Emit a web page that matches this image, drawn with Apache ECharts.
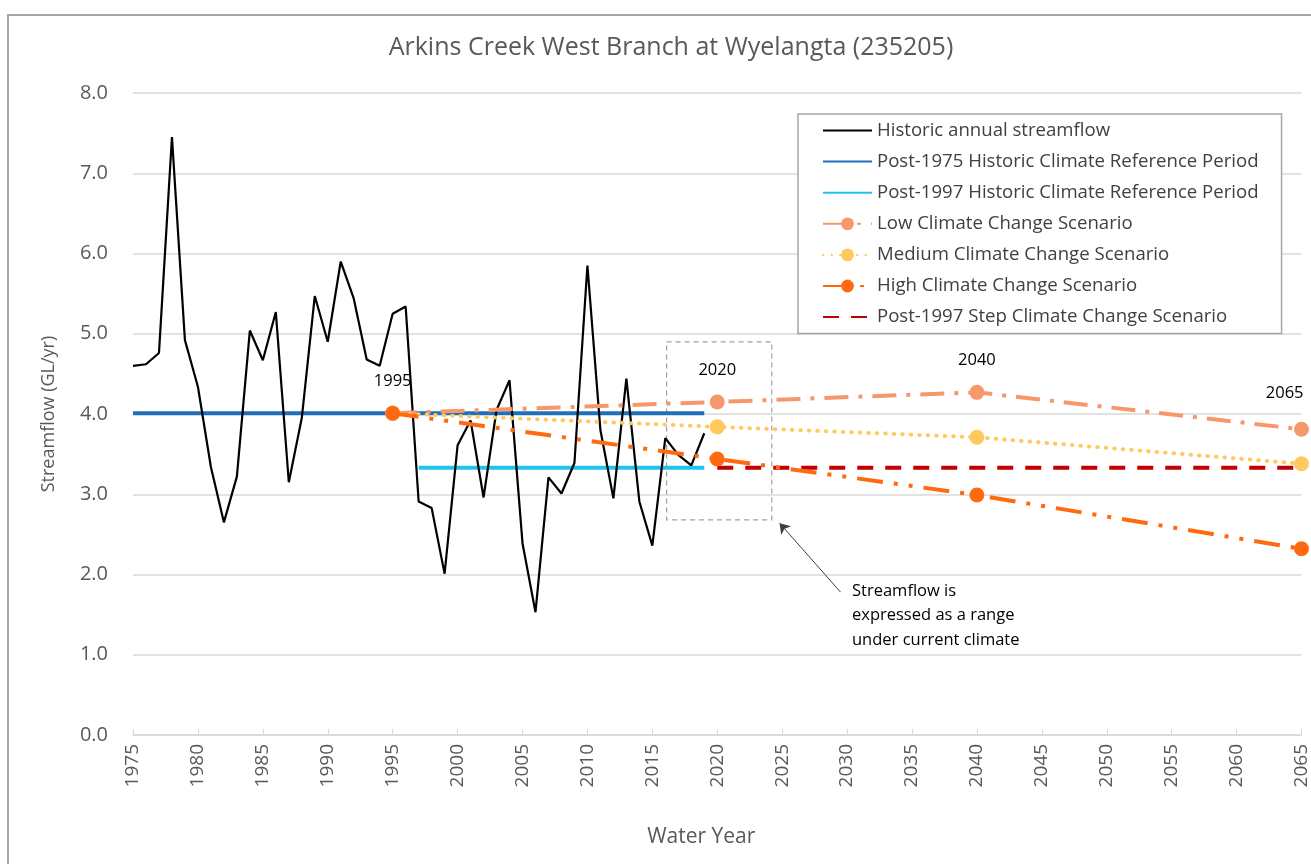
<!DOCTYPE html>
<html>
<head>
<meta charset="utf-8">
<title>Arkins Creek West Branch at Wyelangta (235205)</title>
<script src="https://cdn.jsdelivr.net/npm/echarts@6/dist/echarts.min.js"></script>
<style>
  html, body { margin: 0; padding: 0; background: #fff; }
  #main { width: 1311px; height: 864px; }
</style>
</head>
<body>
<div id="main"></div>
<script>
// historic annual streamflow (GL/yr)
const years = [1975, 1976, 1977, 1978, 1979, 1980, 1981, 1982, 1983, 1984,
  1985, 1986, 1987, 1988, 1989, 1990, 1991, 1992, 1993, 1994,
  1995, 1996, 1997, 1998, 1999, 2000, 2001, 2002, 2003, 2004,
  2005, 2006, 2007, 2008, 2009, 2010, 2011, 2012, 2013, 2014,
  2015, 2016, 2017, 2018, 2019]
const flow = [4.60, 4.62, 4.76, 7.45, 4.92, 4.34, 3.34, 2.65, 3.22, 5.04,
  4.67, 5.27, 3.15, 3.95, 5.47, 4.90, 5.90, 5.44, 4.68, 4.60,
  5.25, 5.34, 2.91, 2.83, 2.01, 3.61, 3.92, 2.96, 4.05, 4.42,
  2.39, 1.53, 3.21, 3.01, 3.39, 5.85, 3.80, 2.95, 4.44, 2.91,
  2.36, 3.70, 3.49, 3.36, 3.76]

// reference periods
const ref1975Years = [1975, 2019]
const ref1975Flow = [4.01, 4.01]
const ref1997Years = [1997, 2019]
const ref1997Flow = [3.33, 3.33]

// climate change scenarios
const scenarioYears = [1995, 2020, 2040, 2065]
const lowFlow = [4.01, 4.15, 4.27, 3.81]
const medFlow = [4.01, 3.84, 3.71, 3.38]
const highFlow = [4.01, 3.44, 2.99, 2.32]
const stepYears = [2020, 2065]
const stepFlow = [3.33, 3.33]

const lowLabelYears = [2020, 2040, 2065]
const highLabelYears = [1995]

const yTicks = [0, 1, 2, 3, 4, 5, 6, 7, 8]

const font = 'Open Sans'
const grey = '#595959'

function pairs(xs, ys) {
  return xs.map((x, i) => [x, ys[i]])
}

function labelled(xs, ys, labelYears, extra) {
  return xs.map((x, i) => {
    if (labelYears.indexOf(x) < 0) return [x, ys[i]]
    let label = { show: true, position: 'top', distance: 16, formatter: String(x) }
    if (x === 2065) label = Object.assign(label, { align: 'right', offset: [2, -4] })
    return { value: [x, ys[i]], label: Object.assign(label, extra) }
  })
}

const seriesNames = [
  'Historic annual streamflow',
  'Post-1975 Historic Climate Reference Period',
  'Post-1997 Historic Climate Reference Period',
  'Low Climate Change Scenario',
  'Medium Climate Change Scenario',
  'High Climate Change Scenario',
  'Post-1997 Step Climate Change Scenario',
]
// lines without markers: hide the legend symbol, keep the line
const plainLines = [0, 1, 2, 6]

let myChart = echarts.init(document.getElementById('main'))

let option = {
  backgroundColor: '#fff',
  animation: false,
  textStyle: { fontFamily: font },
  title: {
    text: 'Arkins Creek West Branch at Wyelangta (235205)',
    left: 666,
    textAlign: 'center',
    top: 30,
    textStyle: { fontFamily: font, fontSize: 25, fontWeight: 'normal', color: grey },
  },
  legend: {
    orient: 'vertical',
    left: 798,
    top: 114,
    padding: [7, 23, 7, 24],
    borderColor: '#a6a6a6',
    borderWidth: 1.5,
    backgroundColor: '#fff',
    itemWidth: 49,
    itemHeight: 16,
    itemGap: 12.1,
    textStyle: { fontFamily: font, fontSize: 18.6, color: '#404040', lineHeight: 18.5 },
    data: seriesNames.map((n, i) =>
      plainLines.indexOf(i) >= 0 ? { name: n, itemStyle: { opacity: 0 } } : { name: n }
    ),
  },
  grid: { left: 133, right: 8, top: 93, bottom: 129 },
  xAxis: {
    type: 'value',
    min: 1975,
    max: 2065,
    interval: 5,
    name: 'Water Year',
    nameLocation: 'middle',
    nameGap: 92,
    nameTextStyle: { fontFamily: font, fontSize: 21, color: grey, padding: [0, 32, 0, 0] },
    axisLine: { show: true, lineStyle: { color: '#d9d9d9', width: 1.5 } },
    axisTick: { show: true, inside: true, length: 6, lineStyle: { color: '#d9d9d9' } },
    axisLabel: { rotate: 90, margin: 9, fontSize: 19, color: grey, fontFamily: font, formatter: (v) => String(v) },
    splitLine: { show: false },
  },
  yAxis: {
    type: 'value',
    min: yTicks[0],
    max: yTicks[yTicks.length - 1],
    interval: 1,
    name: 'Streamflow (GL/yr)',
    nameLocation: 'middle',
    nameRotate: 90,
    nameGap: 75,
    nameTextStyle: { fontFamily: font, fontSize: 18, color: grey },
    axisLine: { show: false },
    axisTick: { show: false },
    axisLabel: { margin: 25, fontSize: 20, color: grey, fontFamily: font, formatter: (v) => v.toFixed(1) },
    splitLine: { lineStyle: { color: '#d9d9d9', width: 1.5 } },
  },
  series: [
    {
      name: seriesNames[0],
      type: 'line',
      data: pairs(years, flow),
      symbol: 'none',
      lineStyle: { color: '#000', width: 2.2 },
      itemStyle: { color: '#000' },
      z: 3,
      markArea: {
        silent: true,
        itemStyle: { color: 'rgba(0,0,0,0)', borderColor: '#a0a0a0', borderWidth: 1.2, borderType: [5, 4] },
        data: [[{ coord: [2016.1, 4.9] }, { coord: [2024.2, 2.68] }]],
      },
      markLine: {
        silent: true,
        symbol: ['none', 'arrow'],
        symbolSize: 10,
        label: { show: false },
        lineStyle: { color: '#404040', width: 1, type: 'solid' },
        data: [[{ coord: [2029.5, 1.78] }, { coord: [2024.8, 2.64] }]],
      },
    },
    {
      name: seriesNames[1],
      type: 'line',
      data: pairs(ref1975Years, ref1975Flow),
      symbol: 'none',
      lineStyle: { color: '#1f6fbd', width: 4 },
      itemStyle: { color: '#1f6fbd' },
      z: 2,
    },
    {
      name: seriesNames[2],
      type: 'line',
      data: pairs(ref1997Years, ref1997Flow),
      symbol: 'none',
      lineStyle: { color: '#1ec3ef', width: 4 },
      itemStyle: { color: '#1ec3ef' },
      z: 2,
    },
    {
      name: seriesNames[3],
      type: 'line',
      data: labelled(scenarioYears, lowFlow, lowLabelYears, { color: '#000', fontSize: 16.5, fontFamily: font }),
      symbol: 'circle',
      symbolSize: 15,
      lineStyle: { color: '#f7976c', width: 4, type: [24, 10, 4, 10] },
      itemStyle: { color: '#f7976c' },
      z: 4,
    },
    {
      name: seriesNames[4],
      type: 'line',
      data: pairs(scenarioYears, medFlow),
      symbol: 'circle',
      symbolSize: 15,
      lineStyle: { color: '#ffc95e', width: 4, type: [0.5, 8], cap: 'round' },
      itemStyle: { color: '#ffc95e' },
      z: 4,
    },
    {
      name: seriesNames[5],
      type: 'line',
      data: labelled(scenarioYears, highFlow, highLabelYears, { color: '#000', fontSize: 16.5, fontFamily: font }),
      symbol: 'circle',
      symbolSize: 15,
      lineStyle: { color: '#ff6a10', width: 4, type: [26, 11, 4, 11, 4, 11] },
      itemStyle: { color: '#ff6a10' },
      z: 5,
    },
    {
      name: seriesNames[6],
      type: 'line',
      data: pairs(stepYears, stepFlow),
      symbol: 'none',
      lineStyle: { color: '#c00000', width: 4, type: [16, 12] },
      itemStyle: { color: '#c00000' },
      z: 4,
    },
  ],
  graphic: [
    {
      type: 'rect',
      shape: { x: 8, y: 15, width: 1400, height: 900 },
      style: { fill: 'none', stroke: '#a6a6a6', lineWidth: 2 },
      silent: true,
      z: -10,
    },
    {
      type: 'text',
      left: 852,
      top: 579,
      style: {
        text: 'Streamflow is\nexpressed as a range\nunder current climate',
        font: '16.5px "Open Sans"',
        lineHeight: 24.5,
        fill: '#000',
      },
    },
  ],
}

myChart.setOption(option)
window.addEventListener('resize', () => {
  myChart.resize()
})
</script>
</body>
</html>
